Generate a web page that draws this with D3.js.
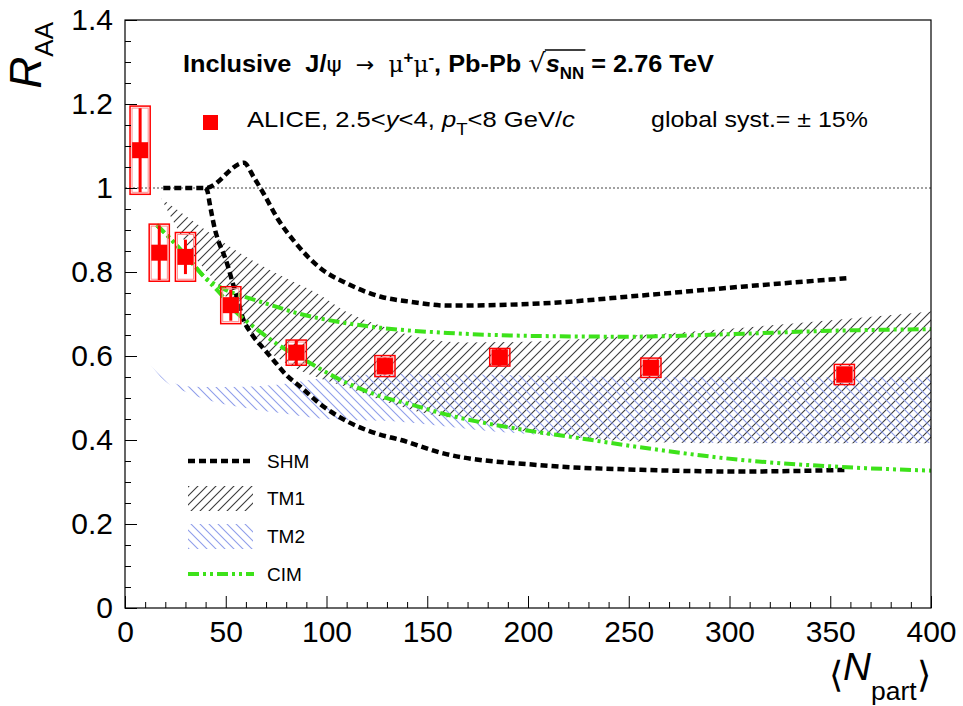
<!DOCTYPE html>
<html><head><meta charset="utf-8">
<script src="https://cdn.jsdelivr.net/npm/d3@7"></script>
<style>
body{margin:0;background:#fff}
svg{display:block}
text{font-family:"Liberation Sans",Arial,Helvetica,sans-serif;white-space:pre}
</style>
</head><body>
<svg id="c" width="963" height="706"></svg>
<script>
// ---------------- data ----------------
const aliceNpart = [7.5, 17, 30, 52.5, 85, 129, 186, 261, 357];
const aliceRaa   = [1.09, 0.846, 0.836, 0.721, 0.608, 0.576, 0.597, 0.572, 0.556];
const aliceStat  = [0.10, 0.065, 0.041, 0.037, 0.03, 0.02, 0.02, 0.015, 0.015];
const aliceSyst  = [0.105, 0.068, 0.058, 0.044, 0.03, 0.025, 0.021, 0.023, 0.024];
const aliceSystHalfNpart = 5;

const shmUpperNpart = [19, 40, 59, 64, 69, 76, 83.5, 97, 110, 127, 142, 160, 206, 256, 306, 358];
const shmUpperRaa   = [1.0, 1.0, 1.06, 1.025, 0.985, 0.925, 0.876, 0.809, 0.773, 0.741, 0.729, 0.72, 0.725, 0.744, 0.765, 0.785];
const shmLowerNpart = [40, 41, 42, 43.1, 44.7, 46.8, 49.2, 51, 53.5, 55, 58.5, 62.6, 68.7, 73.7, 80.4, 87, 97, 110, 125, 137, 158, 206, 256, 306, 359];
const shmLowerRaa   = [1.0, 0.991, 0.964, 0.936, 0.9, 0.868, 0.84, 0.815, 0.773, 0.75, 0.69, 0.654, 0.618, 0.59, 0.553, 0.527, 0.485, 0.445, 0.415, 0.40, 0.368, 0.34, 0.329, 0.325, 0.329];

const tm1Npart = [18, 24, 34, 46, 57, 68, 80, 95, 110, 127, 145, 168, 206, 251, 300, 350, 400];
const tm1Upper = [0.975, 0.955, 0.92, 0.88, 0.845, 0.815, 0.785, 0.75, 0.705, 0.672, 0.645, 0.632, 0.635, 0.648, 0.665, 0.685, 0.706];
const tm1Lower = [0.975, 0.92, 0.84, 0.77, 0.69, 0.625, 0.583, 0.55, 0.526, 0.495, 0.468, 0.448, 0.415, 0.397, 0.392, 0.392, 0.392];

const tm2Npart = [11, 20, 30, 45, 60, 77, 95, 110, 135, 175, 250, 300, 400];
const tm2Upper = [0.60, 0.55, 0.528, 0.526, 0.527, 0.532, 0.545, 0.553, 0.557, 0.556, 0.55, 0.55, 0.55];
const tm2Lower = [0.59, 0.54, 0.515, 0.49, 0.476, 0.464, 0.452, 0.448, 0.444, 0.424, 0.40, 0.393, 0.393];

const cimUpperNpart = [15.7, 24, 32, 39, 45, 50, 57, 70, 87, 105, 127, 160, 200, 250, 300, 350, 400];
const cimUpperRaa   = [0.912, 0.872, 0.829, 0.79, 0.77, 0.757, 0.745, 0.725, 0.70, 0.682, 0.667, 0.655, 0.648, 0.646, 0.652, 0.66, 0.664];
const cimLowerNpart = [15.7, 24, 32, 39, 47, 55, 64, 75, 92, 107, 125, 143, 160, 193, 226, 251, 305, 355, 400];
const cimLowerRaa   = [0.912, 0.872, 0.829, 0.79, 0.75, 0.705, 0.669, 0.63, 0.583, 0.543, 0.507, 0.483, 0.46, 0.428, 0.404, 0.386, 0.353, 0.336, 0.327];

const xTicks = [0, 50, 100, 150, 200, 250, 300, 350, 400];
const xTickLabels = ["0", "50", "100", "150", "200", "250", "300", "350", "400"];
const yTicks = [0, 0.2, 0.4, 0.6, 0.8, 1, 1.2, 1.4];
const yTickLabels = ["0", "0.2", "0.4", "0.6", "0.8", "1", "1.2", "1.4"];
const legendLabels = ["SHM", "TM1", "TM2", "CIM"];

// ---------------- setup ----------------
const svg = d3.select("#c");
const x = d3.scaleLinear([0, 400], [125, 931]);
const y = d3.scaleLinear([0, 1.4], [608, 20]);
const RED = "#ff0000", GREEN = "#3de21a", BLUE = "#8f9eea";

const defs = svg.append("defs");
const p1 = defs.append("pattern").attr("id", "hatch1").attr("patternUnits", "userSpaceOnUse")
  .attr("width", 9).attr("height", 9);
p1.append("path").attr("d", "M0,9 L9,0 M-2,2 L2,-2 M7,11 L11,7")
  .attr("stroke", "#3a3a3a").attr("stroke-width", 1.1);
const p2 = defs.append("pattern").attr("id", "hatch2").attr("patternUnits", "userSpaceOnUse")
  .attr("width", 9).attr("height", 9);
p2.append("path").attr("d", "M0,0 L9,9 M-2,7 L2,11 M7,-2 L11,2")
  .attr("stroke", BLUE).attr("stroke-width", 1.1);
defs.append("clipPath").attr("id", "plotclip").append("rect")
  .attr("x", x(0)).attr("y", y(1.4)).attr("width", x(400) - x(0)).attr("height", y(0) - y(1.4));

const plot = svg.append("g").attr("clip-path", "url(#plotclip)");

// bands
const band = (xs, up, lo) => d3.area()
  .x((d, i) => x(xs[i])).y0((d, i) => y(lo[i])).y1((d, i) => y(up[i]))
  .curve(d3.curveMonotoneX)(xs);
plot.append("path").attr("d", band(tm1Npart, tm1Upper, tm1Lower)).attr("fill", "url(#hatch1)");
plot.append("path").attr("d", band(tm2Npart, tm2Upper, tm2Lower)).attr("fill", "url(#hatch2)");

// reference line at 1
plot.append("line").attr("x1", x(0)).attr("x2", x(400)).attr("y1", y(1)).attr("y2", y(1))
  .attr("stroke", "#444").attr("stroke-width", 1).attr("stroke-dasharray", "2,2");

const line = (xs, ys) => d3.line().x((d, i) => x(xs[i])).y((d, i) => y(ys[i]))
  .curve(d3.curveMonotoneX)(xs);
const shmStyle = s => s.attr("fill", "none").attr("stroke", "#000").attr("stroke-width", 4.5)
  .attr("stroke-dasharray", "7,4");
const cimStyle = s => s.attr("fill", "none").attr("stroke", GREEN).attr("stroke-width", 4)
  .attr("stroke-dasharray", "11,4,3,4,3,4");
plot.append("path").attr("d", line(shmUpperNpart, shmUpperRaa)).call(shmStyle);
plot.append("path").attr("d", line(shmLowerNpart, shmLowerRaa)).call(shmStyle);
plot.append("path").attr("d", line(cimUpperNpart, cimUpperRaa)).call(cimStyle);
plot.append("path").attr("d", line(cimLowerNpart, cimLowerRaa)).call(cimStyle);

// data
const pts = aliceNpart.map((n, i) => ({n, r: aliceRaa[i], st: aliceStat[i], sy: aliceSyst[i]}));
const dg = svg.append("g");
dg.selectAll(".sysO").data(pts).join("rect")
  .attr("x", d => x(d.n - aliceSystHalfNpart)).attr("width", d => x(d.n + aliceSystHalfNpart) - x(d.n - aliceSystHalfNpart))
  .attr("y", d => y(d.r + d.sy)).attr("height", d => y(d.r - d.sy) - y(d.r + d.sy))
  .attr("fill", "none").attr("stroke", RED).attr("stroke-width", 1.5);
dg.selectAll(".sysI").data(pts).join("rect")
  .attr("x", d => x(d.n - aliceSystHalfNpart) + 2).attr("width", d => x(d.n + aliceSystHalfNpart) - x(d.n - aliceSystHalfNpart) - 4)
  .attr("y", d => y(d.r + d.sy) + 2).attr("height", d => Math.max(0, y(d.r - d.sy) - y(d.r + d.sy) - 4))
  .attr("fill", "none").attr("stroke", "#ff8a8a").attr("stroke-width", 1);
dg.selectAll(".stat").data(pts).join("line")
  .attr("x1", d => x(d.n)).attr("x2", d => x(d.n))
  .attr("y1", d => y(d.r + d.st)).attr("y2", d => y(d.r - d.st))
  .attr("stroke", RED).attr("stroke-width", 3);
dg.selectAll(".mk").data(pts).join("rect")
  .attr("x", d => x(d.n) - 8).attr("y", d => y(d.r) - 8).attr("width", 16).attr("height", 16)
  .attr("fill", RED);

// frame & axes
svg.append("rect").attr("x", x(0)).attr("y", y(1.4)).attr("width", x(400) - x(0)).attr("height", y(0) - y(1.4))
  .attr("fill", "none").attr("stroke", "#000").attr("stroke-width", 1.2);

const yMinor = d3.range(0, 1.4001, 0.05).filter(v => Math.abs(v / 0.2 - Math.round(v / 0.2)) > 1e-6);
const xMinor = d3.range(0, 400.01, 10).filter(v => v % 50 !== 0);

const yAx = svg.append("g").attr("transform", `translate(${x(0)},0)`)
  .call(d3.axisLeft(y).tickValues(yTicks).tickSizeInner(-12).tickSizeOuter(0).tickPadding(12)
    .tickFormat((d, i) => yTickLabels[i]));
svg.append("g").attr("transform", `translate(${x(0)},0)`)
  .call(d3.axisLeft(y).tickValues(yMinor).tickSizeInner(-6).tickSizeOuter(0).tickFormat(""));
const xAx = svg.append("g").attr("transform", `translate(0,${y(0)})`)
  .call(d3.axisBottom(x).tickValues(xTicks).tickSizeInner(-12).tickSizeOuter(0).tickPadding(13)
    .tickFormat((d, i) => xTickLabels[i]));
svg.append("g").attr("transform", `translate(0,${y(0)})`)
  .call(d3.axisBottom(x).tickValues(xMinor).tickSizeInner(-6).tickSizeOuter(0).tickFormat(""));
svg.selectAll(".domain").remove();
svg.selectAll(".tick line").attr("stroke", "#000").attr("stroke-width", 1);
yAx.selectAll("text").attr("font-size", 30).attr("font-family", '"Liberation Sans",Arial,sans-serif').attr("fill", "#000");
xAx.selectAll("text").attr("font-size", 30).attr("font-family", '"Liberation Sans",Arial,sans-serif').attr("fill", "#000");

// helper to fit a text group horizontally
function fit(g, x0, x1, base) {
  const bb = g.node().getBBox();
  const s = (x1 - x0) / bb.width;
  g.attr("transform", `translate(${x0 - bb.x * s},${base}) scale(${s},1)`);
}

// axis titles
const yt = svg.append("text").attr("transform", `translate(41,22) rotate(-90)`).attr("text-anchor", "end");
yt.append("tspan").text("R").attr("font-style", "italic").attr("font-size", 44);
yt.append("tspan").text("AA").attr("font-size", 26).attr("dy", 12);

const xtg = svg.append("g");
const xt = xtg.append("text").attr("x", 0).attr("y", 0);
xt.append("tspan").text("⟨").attr("font-size", 36).attr("font-family", "DejaVu Sans").attr("font-weight", 200).attr("dy", 7);
xt.append("tspan").text("N").attr("font-style", "italic").attr("font-size", 38).attr("dy", -7);
xt.append("tspan").text("part").attr("font-size", 26).attr("dy", 20);
xt.append("tspan").text("⟩").attr("font-size", 36).attr("font-family", "DejaVu Sans").attr("font-weight", 200).attr("dy", -13);
fit(xtg, 829, 931, 680);

// header
const hg = svg.append("g");
const ht = hg.append("text").attr("font-size", 24).attr("font-weight", "bold");
ht.append("tspan").text("Inclusive  J/");
ht.append("tspan").text("ψ").attr("font-weight", "normal").attr("font-family", "DejaVu Sans").attr("font-size", 22);
ht.append("tspan").text("  \u2192  ").attr("font-weight", "normal").attr("font-family", "DejaVu Sans").attr("font-size", 21);
ht.append("tspan").text("μ").attr("font-weight", "normal").attr("font-family", "DejaVu Serif").attr("font-size", 22);
ht.append("tspan").text("+").attr("font-size", 16).attr("dy", -9);
ht.append("tspan").text("μ").attr("font-weight", "normal").attr("font-family", "DejaVu Serif").attr("font-size", 22).attr("dy", 9);
ht.append("tspan").text("-").attr("font-size", 16).attr("dy", -9);
ht.append("tspan").text(", Pb-Pb ").attr("dy", 9);
ht.append("tspan").text("√").attr("font-weight", "normal").attr("font-family", "DejaVu Sans").attr("font-size", 26);
ht.append("tspan").text("s").attr("font-style", "italic");
ht.append("tspan").text("NN").attr("font-size", 16).attr("dy", 7);
ht.append("tspan").text(" = 2.76 TeV").attr("dy", -7);
// overline for the radical
(function () {
  const full = ht.text();
  const iS = full.indexOf("√");
  const iN = full.indexOf("NN") + 1;
  const n = ht.node();
  const e0 = n.getExtentOfChar(iS), e1 = n.getExtentOfChar(iN);
  hg.append("line").attr("x1", e0.x + e0.width - 1).attr("x2", e1.x + e1.width + 1)
    .attr("y1", e0.y + 2).attr("y2", e0.y + 2).attr("stroke", "#000").attr("stroke-width", 1.3);
})();
fit(hg, 183, 714, 72);

// ALICE legend
svg.append("rect").attr("x", 203).attr("y", 115).attr("width", 15).attr("height", 15).attr("fill", RED);
const ag = svg.append("g");
const at = ag.append("text").attr("font-size", 22);
at.append("tspan").text("ALICE, 2.5<");
at.append("tspan").text("y").attr("font-style", "italic");
at.append("tspan").text("<4, ");
at.append("tspan").text("p").attr("font-style", "italic");
at.append("tspan").text("T").attr("font-size", 16).attr("dy", 8);
at.append("tspan").text("<8 GeV/").attr("dy", -8);
at.append("tspan").text("c").attr("font-style", "italic");
fit(ag, 247, 575, 127);
const gg = svg.append("g");
gg.append("text").attr("font-size", 22).text("global syst.= ± 15%");
fit(gg, 651, 868, 127);

// model legend
const legY = [461, 498, 536, 574];
const lg = svg.append("g");
lg.append("line").attr("x1", 188).attr("x2", 254).attr("y1", legY[0]).attr("y2", legY[0]).call(shmStyle);
lg.append("rect").attr("x", 188).attr("y", legY[1] - 12).attr("width", 65).attr("height", 25).attr("fill", "url(#hatch1)");
lg.append("rect").attr("x", 188).attr("y", legY[2] - 12).attr("width", 65).attr("height", 25).attr("fill", "url(#hatch2)");
lg.append("line").attr("x1", 188).attr("x2", 254).attr("y1", legY[3]).attr("y2", legY[3]).call(cimStyle);
lg.selectAll(".lt").data(legendLabels).join("text")
  .attr("x", 267).attr("y", (d, i) => legY[i] + 7).attr("font-size", 19).text(d => d);
</script>
</body></html>
